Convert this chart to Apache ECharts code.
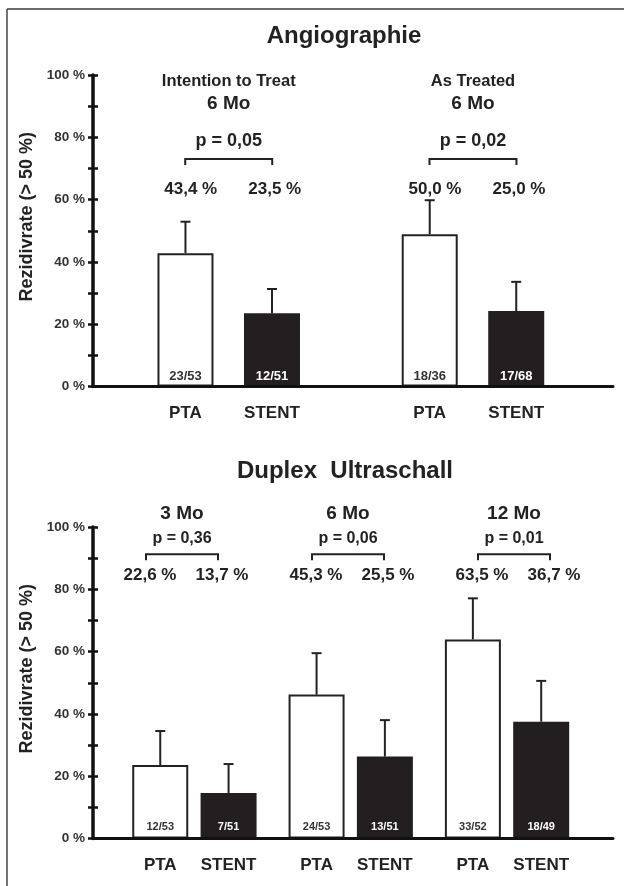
<!DOCTYPE html>
<html>
<head>
<meta charset="utf-8">
<script src="https://cdn.jsdelivr.net/npm/echarts@6/dist/echarts.min.js"></script>
<style>
  html, body { margin: 0; padding: 0; background: #fff; }
  #chart { width: 624px; height: 886px; }
</style>
</head>
<body>
<div id="chart"></div>
<script>
(function() {
  var ink = '#222';
  var barBlack = '#231f20';
  var fontFamily = '"Liberation Sans", Arial, sans-serif';

  // --- data ---
  var barNames = ['PTA', 'STENT'];
  var yTicks = [0, 20, 40, 60, 80, 100];

  // Angiographie
  var angioGroups = ['Intention to Treat', 'As Treated'];
  var angioPeriod = ['6 Mo', '6 Mo'];
  var angioP = ['p = 0,05', 'p = 0,02'];
  var angioPta = [42.8, 48.9];
  var angioStent = [23.5, 24.2];
  var angioPtaErr = [52.9, 59.8];
  var angioStentErr = [31.3, 33.6];
  var angioPtaPct = ['43,4 %', '50,0 %'];
  var angioStentPct = ['23,5 %', '25,0 %'];
  var angioPtaN = ['23/53', '18/36'];
  var angioStentN = ['12/51', '17/68'];

  // Duplex Ultraschall
  var duplexGroups = ['3 Mo', '6 Mo', '12 Mo'];
  var duplexP = ['p = 0,36', 'p = 0,06', 'p = 0,01'];
  var duplexPta = [23.6, 46.2, 63.9];
  var duplexStent = [14.6, 26.3, 37.5];
  var duplexPtaErr = [34.5, 59.5, 77.1];
  var duplexStentErr = [23.9, 38.0, 50.6];
  var duplexPtaPct = ['22,6 %', '45,3 %', '63,5 %'];
  var duplexStentPct = ['13,7 %', '25,5 %', '36,7 %'];
  var duplexPtaN = ['12/53', '24/53', '33/52'];
  var duplexStentN = ['7/51', '13/51', '18/49'];

  var option = {
    animation: false,
    backgroundColor: '#fff',
    grid: [], xAxis: [], yAxis: [], series: [],
    graphic: [
      { type: 'line', shape: { x1: 7, y1: 9, x2: 624, y2: 9 }, style: { stroke: '#6a6a6a', lineWidth: 2 } },
      { type: 'line', shape: { x1: 7, y1: 9, x2: 7, y2: 886 }, style: { stroke: '#444', lineWidth: 1.5 } },
      { type: 'text', x: 344, y: 36.5, style: { text: 'Angiographie', fontSize: 24, fontWeight: 'bold', fontFamily: fontFamily, fill: ink, align: 'center', verticalAlign: 'middle' } },
      { type: 'text', x: 345, y: 471.5, style: { text: 'Duplex  Ultraschall', fontSize: 24, fontWeight: 'bold', fontFamily: fontFamily, fill: ink, align: 'center', verticalAlign: 'middle' } }
    ]
  };

  function txt(x, y, s, size, color) {
    return { type: 'text', x: x, y: y, style: { text: s, fontSize: size, fontWeight: 'bold', fontFamily: fontFamily, fill: color || ink, align: 'center', verticalAlign: 'middle' } };
  }

  function barOffsets(p) {
    var gap = p.barWidth * parseFloat(p.barGap) / 100;
    var d = (p.barWidth + gap) / 2;
    return [-d, d];
  }

  function addPanel(p) {
    var g = option.grid.length, xi = option.xAxis.length, yi = option.yAxis.length;

    option.grid.push({ left: 93, right: 11, top: p.top, bottom: p.bottom });
    option.grid.push({ left: p.barLeft, right: p.barRight, top: p.top, bottom: p.bottom });
    option.grid.push({ left: p.annLeft, right: p.annRight, top: p.top, bottom: p.bottom });

    option.xAxis.push({
      gridIndex: g, type: 'value', min: 0, max: 1, z: 5,
      axisLine: { show: true, onZero: false, lineStyle: { color: '#111', width: 3 } },
      axisTick: { show: false }, axisLabel: { show: false }, splitLine: { show: false }
    });
    option.xAxis.push({ gridIndex: g + 1, type: 'category', data: p.groups, show: false });
    option.xAxis.push({ gridIndex: g + 2, type: 'category', data: p.groups, show: false });

    option.yAxis.push({
      gridIndex: g, type: 'value', min: 0, max: 100, interval: 10, position: 'left', z: 5,
      name: 'Rezidivrate (> 50 %)', nameLocation: 'middle', nameRotate: 90, nameGap: 55,
      nameTextStyle: { fontSize: 18, fontWeight: 'bold', fontFamily: fontFamily, color: ink, padding: [0, 0, 0, 28] },
      axisLine: { show: true, onZero: false, lineStyle: { color: '#111', width: 3.5 } },
      axisTick: { show: true, length: 5, lineStyle: { color: '#111', width: 2.5 } },
      axisLabel: {
        margin: 8, fontSize: 13.5, fontWeight: 'bold', fontFamily: fontFamily, color: '#333',
        formatter: function(v) { return yTicks.indexOf(v) >= 0 ? v + ' %' : ''; }
      },
      splitLine: { show: false }
    });
    option.yAxis.push({
      gridIndex: g, type: 'value', min: 0, max: 100, interval: 10, position: 'left', z: 5,
      axisLine: { show: false },
      axisTick: { show: true, inside: true, length: 5, lineStyle: { color: '#111', width: 2.5 } },
      axisLabel: { show: false }, splitLine: { show: false }
    });
    option.yAxis.push({ gridIndex: g + 1, type: 'value', min: 0, max: 100, show: false });
    option.yAxis.push({ gridIndex: g + 2, type: 'value', min: 0, max: 100, show: false });

    function nLabel(list, color) {
      return {
        show: true, position: 'insideBottom', distance: p.nDist,
        fontSize: p.nSize, fontWeight: 'bold', fontFamily: fontFamily, color: color,
        formatter: function(params) { return list[params.dataIndex]; }
      };
    }

    option.series.push({
      name: 'PTA', type: 'bar', xAxisIndex: xi + 1, yAxisIndex: yi + 2,
      data: p.pta, barWidth: p.barWidth, barGap: p.barGap,
      itemStyle: { color: '#fff', borderColor: ink, borderWidth: 2 },
      label: nLabel(p.ptaN, '#333')
    });
    option.series.push({
      name: 'STENT', type: 'bar', xAxisIndex: xi + 1, yAxisIndex: yi + 2,
      data: p.stent, barWidth: p.barWidth, barGap: p.barGap,
      itemStyle: { color: barBlack, borderColor: barBlack, borderWidth: 2 },
      label: nLabel(p.stentN, '#fff')
    });

    // error bars + category names under the bars
    option.series.push({
      type: 'custom', xAxisIndex: xi + 1, yAxisIndex: yi + 2, z: 4, clip: false, silent: true,
      encode: { x: 0, y: [1, 2, 3, 4] },
      data: p.groups.map(function(name, i) { return [i, p.pta[i], p.ptaErr[i], p.stent[i], p.stentErr[i]]; }),
      renderItem: function(params, api) {
        var i = api.value(0);
        var base = api.coord([i, 0]);
        var off = barOffsets(p);
        var children = [];
        [[1, 2], [3, 4]].forEach(function(d, k) {
          var x = base[0] + off[k];
          var yTop = api.coord([i, api.value(d[0])])[1];
          var yErr = api.coord([i, api.value(d[1])])[1];
          children.push({ type: 'line', shape: { x1: x, y1: yTop, x2: x, y2: yErr }, style: { stroke: ink, lineWidth: 2 } });
          children.push({ type: 'line', shape: { x1: x - 5, y1: yErr, x2: x + 5, y2: yErr }, style: { stroke: ink, lineWidth: 2 } });
          children.push(txt(x, base[1] + 27, barNames[k], 17));
        });
        return { type: 'group', children: children };
      }
    });

    // headings, p values, brackets, percentages
    option.series.push({
      type: 'custom', xAxisIndex: xi + 2, yAxisIndex: yi + 3, z: 4, clip: false, silent: true,
      encode: { x: 0, y: 1 },
      data: p.groups.map(function(name, i) { return [i, 100]; }),
      renderItem: function(params, api) {
        var i = params.dataIndex;
        var c = api.coord([api.value(0), 100]);
        var x = c[0], y = c[1];
        var children = [];
        p.heads.forEach(function(h) { children.push(txt(x, y + h.dy, h.list[i], h.size)); });
        children.push(txt(x, y + p.pDy, p.pText[i], p.pSize));
        var by = y + p.brDy, bh = p.brHalf;
        children.push({
          type: 'polyline',
          shape: { points: [[x - bh, by + 6], [x - bh, by], [x + bh, by], [x + bh, by + 6]] },
          style: { stroke: ink, lineWidth: 2, fill: null }
        });
        children.push(txt(x + p.pctDx - p.pctHalf, y + p.pctDy, p.ptaPct[i], 17));
        children.push(txt(x + p.pctDx + p.pctHalf, y + p.pctDy, p.stentPct[i], 17));
        return { type: 'group', children: children };
      }
    });
  }

  addPanel({
    top: 75, bottom: 499.5,
    barLeft: 106.6, barRight: 28.9, annLeft: 106.6, annRight: 28.9,
    barWidth: 56, barGap: '54.5%', nDist: 4, nSize: 13,
    groups: angioGroups, pta: angioPta, stent: angioStent,
    ptaErr: angioPtaErr, stentErr: angioStentErr,
    ptaN: angioPtaN, stentN: angioStentN,
    heads: [{ list: angioGroups, dy: 6, size: 16.5 }, { list: angioPeriod, dy: 29, size: 19 }],
    pText: angioP, pDy: 66, pSize: 18,
    brDy: 84, brHalf: 43.5,
    ptaPct: angioPtaPct, stentPct: angioStentPct, pctDy: 114, pctDx: 4, pctHalf: 42
  });

  addPanel({
    top: 527, bottom: 47.5,
    barLeft: 116.25, barRight: 38.8, annLeft: 99, annRight: 27,
    barWidth: 56, barGap: '22%', nDist: 6, nSize: 11,
    groups: duplexGroups, pta: duplexPta, stent: duplexStent,
    ptaErr: duplexPtaErr, stentErr: duplexStentErr,
    ptaN: duplexPtaN, stentN: duplexStentN,
    heads: [{ list: duplexGroups, dy: -13, size: 19 }],
    pText: duplexP, pDy: 12, pSize: 16,
    brDy: 27.3, brHalf: 36,
    ptaPct: duplexPtaPct, stentPct: duplexStentPct, pctDy: 48, pctDx: 4, pctHalf: 36
  });

  var chart = echarts.init(document.getElementById('chart'), null, { renderer: 'canvas' });
  chart.setOption(option);
})();
</script>
</body>
</html>
